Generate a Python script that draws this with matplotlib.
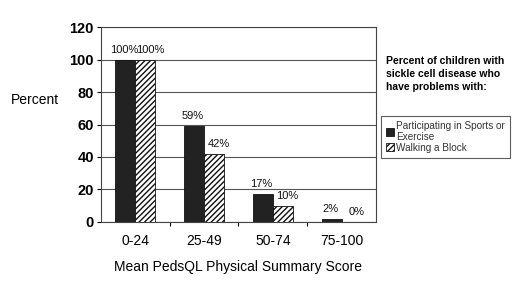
import matplotlib.pyplot as plt
import numpy as np

plt.rcParams['font.family'] = ['Liberation Sans', 'DejaVu Sans']
plt.rcParams['hatch.linewidth'] = 1.0

categories = ['0-24', '25-49', '50-74', '75-100']
sports = [100, 59, 17, 2]
walking = [100, 42, 10, 0]
series_names = ['Participating in Sports or\nExercise', 'Walking a Block']

fig = plt.figure(figsize=(5.2, 2.82), dpi=100)
ax = fig.add_axes([0.194, 0.213, 0.529, 0.691])

x = np.arange(len(categories))
w = 0.29
b1 = ax.bar(x - w / 2, sports, w, color='#222222', edgecolor='#111111', linewidth=0.6,
            label=series_names[0], zorder=3)
b2 = ax.bar(x + w / 2, walking, w, color='white', edgecolor='#111111', hatch='//////',
            linewidth=0.6, label=series_names[1], zorder=3)

for rects, vals, dx in ((b1, sports, -0.02), (b2, walking, 0.07)):
    for r, v in zip(rects, vals):
        ax.text(r.get_x() + r.get_width() / 2 + dx, v + 3, f'{v}%', ha='center', va='bottom',
                fontsize=8, color='#111111')

ax.set_xlim(-0.5, len(categories) - 0.5)
ax.set_ylim(0, 120)
ax.set_yticks(range(0, 121, 20))
ax.tick_params(axis='y', labelsize=10.5, length=3, width=0.8, pad=2)
for t in ax.get_yticklabels():
    t.set_fontweight('bold')
ax.set_xticks(x)
ax.set_xticklabels(categories, fontsize=10)
ax.tick_params(axis='x', length=0, pad=9)
ax.set_xticks(np.arange(0.5, len(categories) - 1, 1), minor=True)
ax.tick_params(axis='x', which='minor', length=3, width=0.8)
ax.yaxis.grid(True, color='#555555', linewidth=0.8, zorder=0)
ax.set_axisbelow(True)
for s in ax.spines.values():
    s.set_color('#444444')
    s.set_linewidth(0.8)

ax.set_xlabel('Mean PedsQL Physical Summary Score', fontsize=10, labelpad=8)
fig.text(0.02, 0.645, 'Percent', fontsize=10, va='center', ha='left')

fig.text(0.742, 0.80, 'Percent of children with\nsickle cell disease who\nhave problems with:',
         fontsize=7.5, fontweight='bold', va='top', ha='left', linespacing=1.35)

leg = fig.legend(handles=[b1, b2], loc='upper left', bbox_to_anchor=(0.733, 0.59),
                 borderaxespad=0, fontsize=7.2, frameon=True, fancybox=False,
                 handlelength=0.8, handleheight=0.8, handletextpad=0.2, borderpad=0.5,
                 labelspacing=0.05)
leg.get_frame().set_edgecolor('#333333')
leg.get_frame().set_linewidth(0.8)
for t in leg.get_texts():
    t.set_color('#333333')

fig.savefig('out.png', dpi=100)
